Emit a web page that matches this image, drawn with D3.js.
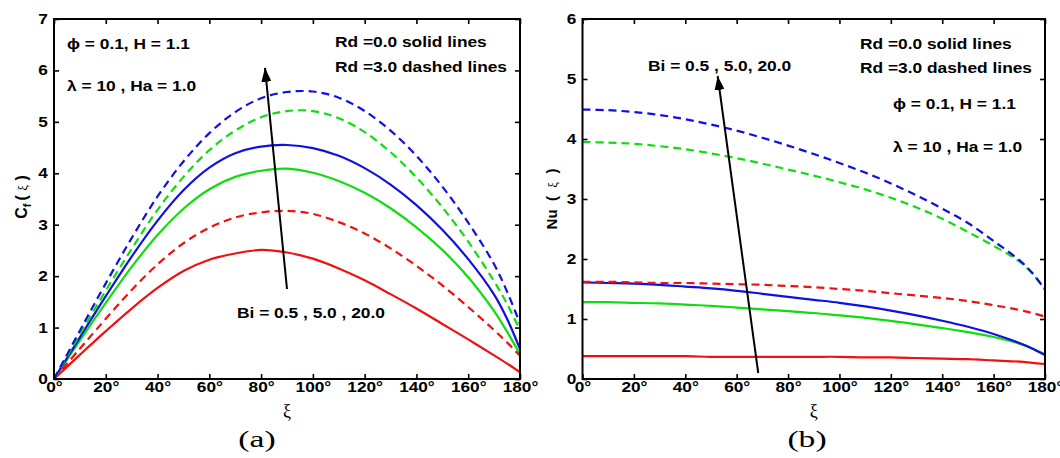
<!DOCTYPE html>
<html>
<head>
<meta charset="utf-8">
<script src="https://cdn.jsdelivr.net/npm/d3@7/dist/d3.min.js"></script>
<style>
  html, body { margin: 0; padding: 0; background: #fff; }
  svg { display: block; }
</style>
</head>
<body>
<svg id="chart" width="1060" height="458"></svg>
<script>
// ---------------- DATA ----------------
const xi = [0,10,20,30,40,50,60,70,80,90,100,110,120,130,140,150,160,170,175,180];
const xTicks = [0,20,40,60,80,100,120,140,160,180];
const xTickLabels = ["0°","20°","40°","60°","80°","100°","120°","140°","160°","180°"];
const cfTicks = [0,1,2,3,4,5,6,7];
const nuTicks = [0,1,2,3,4,5,6];

// Panel (a): skin friction Cf(ξ)
const cfRd0Bi05  = [0,0.47,0.93,1.37,1.77,2.10,2.32,2.44,2.51,2.46,2.34,2.15,1.92,1.65,1.37,1.07,0.77,0.46,0.30,0.13];
const cfRd0Bi5   = [0,0.75,1.48,2.18,2.80,3.31,3.69,3.93,4.05,4.09,4.01,3.85,3.62,3.32,2.95,2.51,1.98,1.32,0.92,0.48];
const cfRd0Bi20  = [0,0.81,1.61,2.38,3.08,3.67,4.11,4.39,4.52,4.55,4.49,4.34,4.10,3.78,3.38,2.90,2.33,1.64,1.17,0.58];
const cfRd3Bi05  = [0,0.59,1.17,1.73,2.23,2.64,2.94,3.14,3.24,3.27,3.21,3.05,2.83,2.54,2.20,1.82,1.40,0.95,0.71,0.45];
const cfRd3Bi5   = [0,0.87,1.72,2.53,3.29,3.93,4.45,4.83,5.09,5.21,5.21,5.07,4.80,4.41,3.92,3.34,2.67,1.90,1.46,0.95];
const cfRd3Bi20  = [0,0.94,1.86,2.74,3.55,4.23,4.78,5.19,5.46,5.58,5.59,5.47,5.21,4.83,4.34,3.74,3.04,2.23,1.70,1.08];

// Panel (b): Nusselt number Nu(ξ)
const nuRd0Bi05  = [0.38,0.38,0.38,0.38,0.38,0.37,0.37,0.37,0.37,0.37,0.37,0.36,0.36,0.35,0.34,0.33,0.31,0.29,0.27,0.25];
const nuRd0Bi5   = [1.28,1.28,1.27,1.26,1.24,1.22,1.19,1.16,1.13,1.10,1.06,1.02,0.97,0.91,0.85,0.78,0.70,0.59,0.51,0.41];
const nuRd0Bi20  = [1.61,1.60,1.59,1.57,1.54,1.51,1.47,1.42,1.37,1.32,1.27,1.21,1.14,1.06,0.97,0.87,0.75,0.60,0.51,0.40];
const nuRd3Bi05  = [1.62,1.62,1.61,1.60,1.60,1.59,1.58,1.57,1.55,1.53,1.50,1.47,1.43,1.39,1.35,1.30,1.23,1.15,1.10,1.04];
const nuRd3Bi5   = [3.95,3.94,3.92,3.88,3.83,3.76,3.68,3.59,3.49,3.39,3.28,3.16,3.02,2.86,2.67,2.45,2.22,1.96,1.76,1.49];
const nuRd3Bi20  = [4.49,4.48,4.45,4.40,4.33,4.24,4.14,4.02,3.89,3.75,3.60,3.44,3.26,3.06,2.84,2.60,2.30,1.98,1.77,1.49];

const biLabels = ["0.5","5.0","20.0"];
const colors = {"0.5":"#f01010","5.0":"#10dd10","20.0":"#1010e0"};

// ---------------- LAYOUT ----------------
const svg = d3.select("#chart");
const SANS = "'Liberation Sans', Arial, sans-serif";
const SERIF = "'Liberation Serif', 'Times New Roman', serif";

svg.append("defs").append("marker")
  .attr("id","arrowhead").attr("markerUnits","userSpaceOnUse")
  .attr("viewBox","0 0 14 10").attr("refX",14).attr("refY",5)
  .attr("markerWidth",14).attr("markerHeight",10).attr("orient","auto")
  .append("path").attr("d","M0,0 L14,5 L0,10 Z").attr("fill","#000");

function txt(g, x, y, str, o = {}) {
  return g.append("text")
    .attr("transform", `translate(${x},${y}) scale(${o.sx ?? 1.24},1)`)
    .attr("text-anchor", o.anchor || "start")
    .style("font-family", o.family || SANS)
    .style("font-weight", o.weight || "bold")
    .style("font-size", (o.size || 14) + "px")
    .attr("fill", "#000")
    .text(str);
}

function panel(cfg) {
  const g = svg.append("g");
  const x = d3.scaleLinear().domain([0,180]).range([cfg.left, cfg.right]);
  const y = d3.scaleLinear().domain([0, cfg.ymax]).range([379, 19]);

  const line = d3.line().x((d,i) => x(xi[i])).y(d => y(d)).curve(d3.curveCatmullRom.alpha(0.5));
  cfg.series.forEach(s => {
    g.append("path").attr("d", line(s.values))
      .attr("fill","none").attr("stroke", colors[s.bi])
      .attr("stroke-width", 2.2)
      .attr("stroke-dasharray", s.dashed ? "8,5" : null);
  });

  const bottom = g.append("g").attr("transform", `translate(0,379)`)
    .call(d3.axisBottom(x).tickValues(xTicks).tickSize(-5).tickPadding(3)
      .tickFormat((d,i) => xTickLabels[i]));
  const top = g.append("g").attr("transform", `translate(0,19)`)
    .call(d3.axisTop(x).tickValues(xTicks).tickSize(-5).tickFormat(""));
  const left = g.append("g").attr("transform", `translate(${cfg.left},0)`)
    .call(d3.axisLeft(y).tickValues(cfg.yTicks).tickSize(-5).tickPadding(5).tickFormat(d3.format("d")));
  const right = g.append("g").attr("transform", `translate(${cfg.right},0)`)
    .call(d3.axisRight(y).tickValues(cfg.yTicks).tickSize(-5).tickFormat(""));
  [bottom, top, left, right].forEach(a => {
    a.select(".domain").remove();
    a.selectAll(".tick line").attr("stroke","#000").attr("stroke-width",1.6);
    a.selectAll(".tick text").attr("fill","#000")
      .style("font-family", SANS).style("font-weight","bold").style("font-size","14px");
  });
  bottom.selectAll(".tick text").attr("transform","scale(1.23,1)");
  left.selectAll(".tick text").attr("transform","scale(1.23,1)");

  g.append("rect").attr("x", cfg.left).attr("y", 19)
    .attr("width", cfg.right - cfg.left).attr("height", 360)
    .attr("fill","none").attr("stroke","#000").attr("stroke-width",2);

  g.append("line")
    .attr("x1", x(cfg.arrow[0])).attr("y1", y(cfg.arrow[1]))
    .attr("x2", x(cfg.arrow[2])).attr("y2", y(cfg.arrow[3]))
    .attr("stroke","#000").attr("stroke-width",2).attr("marker-end","url(#arrowhead)");

  g.append("text").attr("x", (cfg.left + cfg.right) / 2).attr("y", 417)
    .attr("text-anchor","middle").style("font-family", SERIF).style("font-size","18px").text("ξ");
  txt(g, cfg.capX, 447, cfg.caption, {family: SERIF, weight: "normal", size: 24, sx: 1.4, anchor: "middle"});

  return {g, x, y};
}

// ---------- Panel (a) ----------
const A = panel({
  left: 54, right: 520, ymax: 7, yTicks: cfTicks,
  series: [
    {bi:"0.5", dashed:false, values: cfRd0Bi05},
    {bi:"5.0", dashed:false, values: cfRd0Bi5},
    {bi:"20.0", dashed:false, values: cfRd0Bi20},
    {bi:"0.5", dashed:true, values: cfRd3Bi05},
    {bi:"5.0", dashed:true, values: cfRd3Bi5},
    {bi:"20.0", dashed:true, values: cfRd3Bi20}
  ],
  arrow: [90, 1.75, 81.5, 6.05],
  caption: "(a)", capX: 257
});
txt(A.g, 67, 49, "ϕ = 0.1, H = 1.1");
txt(A.g, 67, 91, "λ = 10 , Ha = 1.0");
txt(A.g, 335, 47, "Rd =0.0 solid lines");
txt(A.g, 335, 72, "Rd =3.0 dashed lines");
txt(A.g, 237, 318, "Bi = " + biLabels.join(" , "));
const yla = A.g.append("text").attr("transform","translate(27,197) rotate(-90)")
  .attr("text-anchor","middle").style("font-family", SANS).style("font-weight","bold").style("font-size","16px");
yla.append("tspan").text("C");
yla.append("tspan").attr("dy",4).style("font-size","11px").text("f");
yla.append("tspan").attr("dy",-4).attr("dx",3).text("( ");
yla.append("tspan").style("font-family", SERIF).style("font-weight","normal").style("font-size","13px").text("ξ");
yla.append("tspan").text(" )");

// ---------- Panel (b) ----------
const B = panel({
  left: 582.5, right: 1045, ymax: 6, yTicks: nuTicks,
  series: [
    {bi:"0.5", dashed:false, values: nuRd0Bi05},
    {bi:"5.0", dashed:false, values: nuRd0Bi5},
    {bi:"20.0", dashed:false, values: nuRd0Bi20},
    {bi:"0.5", dashed:true, values: nuRd3Bi05},
    {bi:"5.0", dashed:true, values: nuRd3Bi5},
    {bi:"20.0", dashed:true, values: nuRd3Bi20}
  ],
  arrow: [68.4, 0.1, 52.6, 5.05],
  caption: "(b)", capX: 807
});
txt(B.g, 860, 49, "Rd =0.0 solid lines");
txt(B.g, 860, 73, "Rd =3.0 dashed lines");
txt(B.g, 648, 71, "Bi = 0.5 , 5.0, 20.0");
txt(B.g, 893, 109, "ϕ = 0.1, H = 1.1");
txt(B.g, 893, 152, "λ = 10 , Ha = 1.0");
const ylb = B.g.append("text").attr("transform","translate(557,199) rotate(-90)")
  .attr("text-anchor","middle").style("font-family", SANS).style("font-weight","bold").style("font-size","15px")
  .attr("xml:space","preserve").style("white-space","pre");
ylb.append("tspan").text("Nu  (  ");
ylb.append("tspan").style("font-family", SERIF).style("font-weight","normal").style("font-size","13px").text("ξ");
ylb.append("tspan").text("  )");
</script>
</body>
</html>
